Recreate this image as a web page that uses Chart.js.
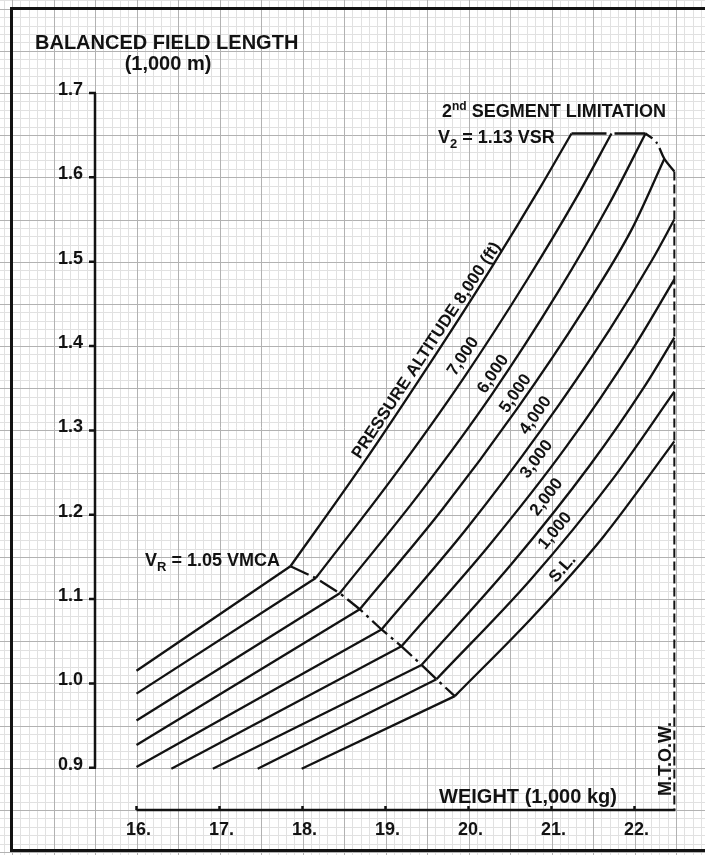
<!DOCTYPE html>
<html>
<head>
<meta charset="utf-8">
<title>Balanced field length</title>
<script src="https://cdn.jsdelivr.net/npm/chart.js@4.4.1/dist/chart.umd.min.js"></script>
<style>
  html, body { margin: 0; padding: 0; background: #fff; }
  #wrap { width: 705px; height: 855px; }
</style>
</head>
<body>
<div id="wrap"><canvas id="bfl" width="705" height="855"></canvas></div>
<script>
// ---------------- chart values (weight in 1,000 kg, field length in 1,000 m) ----------------
const altitudeNames = ['8,000', '7,000', '6,000', '5,000', '4,000', '3,000', '2,000', '1,000', 'S.L.'];
const weightTicks = [16, 17, 18, 19, 20, 21, 22];
const lengthTicks = [0.9, 1.0, 1.1, 1.2, 1.3, 1.4, 1.5, 1.6, 1.7];

// Each curve: start of the straight V_R leg, the V_R break point, then the climb part.
const alt8000 = [[16.00, 1.015], [17.855, 1.139], [18.704, 1.257], [19.512, 1.376], [20.282, 1.494], [20.870, 1.589], [21.241, 1.652]];
const alt7000 = [[16.00, 0.988], [18.160, 1.125], [19.088, 1.244], [19.941, 1.362], [20.722, 1.481], [21.294, 1.575], [21.723, 1.652]];
const alt6000 = [[16.00, 0.956], [18.449, 1.107], [19.416, 1.226], [20.290, 1.344], [21.072, 1.463], [21.698, 1.569], [22.133, 1.652]];
const alt5000 = [[16.00, 0.927], [18.690, 1.088], [19.681, 1.206], [20.580, 1.325], [21.386, 1.443], [21.965, 1.538], [22.360, 1.622]];
const alt4000 = [[16.00, 0.901], [18.952, 1.064], [19.964, 1.182], [20.878, 1.301], [21.696, 1.419], [22.212, 1.502], [22.480, 1.550]];
const alt3000 = [[16.42, 0.899], [19.193, 1.044], [20.243, 1.163], [21.180, 1.281], [22.001, 1.400], [22.480, 1.479]];
const alt2000 = [[16.92, 0.899], [19.434, 1.022], [20.513, 1.141], [21.465, 1.259], [22.133, 1.354], [22.480, 1.410]];
const alt1000 = [[17.46, 0.899], [19.614, 1.005], [20.747, 1.123], [21.735, 1.242], [22.480, 1.346]];
const altSL   = [[17.99, 0.899], [19.835, 0.985], [20.784, 1.080], [21.625, 1.174], [22.480, 1.287]];

// 2nd segment (V2 = 1.13 VSR) limit and the maximum take-off weight
const secondSegment = [[21.241, 1.652], [22.133, 1.652]];
const climbLimitCurve = [[22.480, 1.607], [22.360, 1.622], [22.260, 1.642], [22.133, 1.652]];
const mtowWeight = 22.48;
const mtowTop = 1.607;
const axisFloor = 0.85;

// ---------------- drawing ----------------
const FONT = '"Liberation Sans", Arial, Helvetica, sans-serif';
const INK = '#121212';
const LINE_W = 2.3;
const curves = [alt8000, alt7000, alt6000, alt5000, alt4000, alt3000, alt2000, alt1000, altSL];
const toXY = pts => pts.map(p => ({ x: p[0], y: p[1] }));

const datasets = [];
curves.forEach((c, i) => {
  datasets.push({ label: altitudeNames[i] + ' (V_R)', data: toXY(c.slice(0, 2)),
    borderColor: INK, borderWidth: LINE_W, pointRadius: 0, tension: 0 });
  datasets.push({ label: altitudeNames[i], data: toXY(c.slice(1)),
    borderColor: INK, borderWidth: LINE_W, pointRadius: 0, cubicInterpolationMode: 'monotone' });
});
datasets.push({ label: 'VR = 1.05 VMCA', data: toXY(curves.map(c => c[1])),
  borderColor: INK, borderWidth: LINE_W, pointRadius: 0, tension: 0, borderDash: [20, 5, 3, 5] });
datasets.push({ label: 'V2 = 1.13 VSR', data: toXY(secondSegment),
  borderColor: INK, borderWidth: LINE_W, pointRadius: 0, tension: 0, borderDash: [35, 8] });
datasets.push({ label: 'climb limit', data: toXY(climbLimitCurve),
  borderColor: INK, borderWidth: LINE_W, pointRadius: 0, tension: 0.35, borderDash: [28, 5, 2, 5] });
datasets.push({ label: 'M.T.O.W.', data: toXY([[mtowWeight, mtowTop], [mtowWeight, axisFloor]]),
  borderColor: INK, borderWidth: 2, pointRadius: 0, tension: 0, borderDash: [9, 4] });

// curve captions: text, anchor (weight, length), angle in degrees
const captionText = ['PRESSURE ALTITUDE 8,000 (ft)', '7,000', '6,000', '5,000', '4,000', '3,000', '2,000', '1,000', 'S.L.'];
const captionAt = [[19.535, 1.392], [19.976, 1.385], [20.337, 1.364], [20.606, 1.341], [20.847, 1.315],
                   [20.859, 1.263], [20.980, 1.218], [21.080, 1.178], [21.172, 1.133]];
const captionAngle = [-56.5, -56, -56, -55, -54.5, -53.5, -52.5, -50.5, -49];

// graph paper behind everything, spanning the whole sheet
const graphPaper = {
  id: 'graphPaper',
  beforeDraw(chart) {
    const { ctx, width, height, scales: { x, y } } = chart;
    ctx.save();
    ctx.fillStyle = '#fff';
    ctx.fillRect(0, 0, width, height);
    const xa = Math.ceil(x.getValueForPixel(0) * 10), xb = Math.floor(x.getValueForPixel(width) * 10);
    const ya = Math.ceil(y.getValueForPixel(height) * 100), yb = Math.floor(y.getValueForPixel(0) * 100);
    const pass = (major) => {
      ctx.beginPath();
      for (let i = xa; i <= xb; i++) {
        if ((i % 5 === 0) !== major) continue;
        const px = Math.round(x.getPixelForValue(i / 10)) + 0.5;
        ctx.moveTo(px, 0); ctx.lineTo(px, height);
      }
      for (let j = ya; j <= yb; j++) {
        if ((j % 5 === 0) !== major) continue;
        const py = Math.round(y.getPixelForValue(j / 100)) + 0.5;
        ctx.moveTo(0, py); ctx.lineTo(width, py);
      }
      ctx.stroke();
    };
    ctx.lineWidth = 1;
    ctx.strokeStyle = '#e1e1e1';
    pass(false);
    ctx.strokeStyle = '#b2b2b2';
    pass(true);
    ctx.restore();
  },
  beforeDatasetsDraw(chart) {
    const { ctx, width, scales: { x, y } } = chart;
    ctx.save();
    ctx.strokeStyle = INK;
    // sheet frame
    ctx.lineWidth = 3;
    ctx.strokeRect(11.5, 8.5, width + 20, 842);
    // field length axis
    const ax = x.getPixelForValue(15.5);
    ctx.lineWidth = 2.5;
    ctx.beginPath();
    ctx.moveTo(ax, y.getPixelForValue(lengthTicks[lengthTicks.length - 1]));
    ctx.lineTo(ax, y.getPixelForValue(lengthTicks[0]));
    lengthTicks.forEach(v => {
      const py = y.getPixelForValue(v);
      ctx.moveTo(ax + 1, py); ctx.lineTo(ax - 6, py);
    });
    ctx.stroke();
    // weight axis
    const ay = y.getPixelForValue(axisFloor);
    ctx.beginPath();
    ctx.moveTo(x.getPixelForValue(weightTicks[0]), ay);
    ctx.lineTo(x.getPixelForValue(mtowWeight) + 1, ay);
    weightTicks.forEach(v => {
      const px = x.getPixelForValue(v);
      ctx.moveTo(px, ay); ctx.lineTo(px, ay - 4);
    });
    ctx.stroke();
    ctx.restore();
  },
  afterDraw(chart) {
    const { ctx, scales: { x, y } } = chart;
    ctx.save();
    ctx.fillStyle = INK;
    ctx.textBaseline = 'alphabetic';
    const rich = (parts, left, base) => {
      let cx = left;
      parts.forEach(p => {
        ctx.font = `bold ${p.size}px ${FONT}`;
        ctx.fillText(p.t, cx, base + (p.dy || 0));
        cx += ctx.measureText(p.t).width;
      });
    };
    ctx.textAlign = 'left';
    ctx.font = `bold 20px ${FONT}`;
    ctx.fillText('BALANCED FIELD LENGTH', 35, 49);
    ctx.textAlign = 'center';
    ctx.fillText('(1,000 m)', 168, 70);
    ctx.fillText('WEIGHT (1,000 kg)', 528, 803);
    ctx.textAlign = 'left';
    rich([{ t: '2', size: 18 }, { t: 'nd', size: 12, dy: -7 }, { t: ' SEGMENT LIMITATION', size: 18 }], 442, 117);
    rich([{ t: 'V', size: 18 }, { t: '2', size: 13, dy: 5 }, { t: ' = 1.13 VSR', size: 18 }], 438, 143);
    rich([{ t: 'V', size: 18 }, { t: 'R', size: 13, dy: 5 }, { t: ' = 1.05 VMCA', size: 18 }], 145, 566);

    // M.T.O.W. written upward along the limit line
    ctx.save();
    ctx.translate(x.getPixelForValue(mtowWeight) - 8, 759);
    ctx.rotate(-Math.PI / 2);
    ctx.textAlign = 'center';
    ctx.textBaseline = 'middle';
    ctx.font = `bold 18px ${FONT}`;
    ctx.fillText('M.T.O.W.', 0, 0);
    ctx.restore();

    // curve captions, lifted a little off their curves
    ctx.textAlign = 'center';
    ctx.textBaseline = 'middle';
    ctx.font = `bold 17px ${FONT}`;
    captionText.forEach((t, i) => {
      ctx.save();
      ctx.translate(x.getPixelForValue(captionAt[i][0]), y.getPixelForValue(captionAt[i][1]));
      ctx.rotate(captionAngle[i] * Math.PI / 180);
      ctx.fillText(t, 0, -4);
      ctx.restore();
    });
    ctx.restore();
  }
};

new Chart(document.getElementById('bfl'), {
  type: 'line',
  data: { datasets },
  plugins: [graphPaper],
  options: {
    responsive: false,
    animation: false,
    devicePixelRatio: 1,
    layout: { padding: { left: 0, top: 93, right: 29, bottom: 0 } },
    plugins: { legend: { display: false }, tooltip: { enabled: false } },
    scales: {
      x: {
        type: 'linear', min: 15.5, max: 22.5,
        grid: { display: false, drawTicks: false },
        border: { display: false },
        afterBuildTicks: s => { s.ticks = weightTicks.map(v => ({ value: v })); },
        afterFit: s => { s.height = 45; },
        ticks: {
          padding: 9, color: INK, autoSkip: false, maxRotation: 0, labelOffset: 2,
          font: { family: FONT, weight: 'bold', size: 18 },
          callback: v => v + '.'
        }
      },
      y: {
        type: 'linear', min: axisFloor, max: 1.7,
        grid: { display: false, drawTicks: false },
        border: { display: false },
        afterBuildTicks: s => { s.ticks = lengthTicks.map(v => ({ value: v })); },
        afterFit: s => { s.width = 95; },
        ticks: {
          padding: 12, color: INK, autoSkip: false, labelOffset: -3,
          font: { family: FONT, weight: 'bold', size: 18 },
          callback: v => Number(v).toFixed(1)
        }
      }
    }
  }
});
</script>
</body>
</html>
